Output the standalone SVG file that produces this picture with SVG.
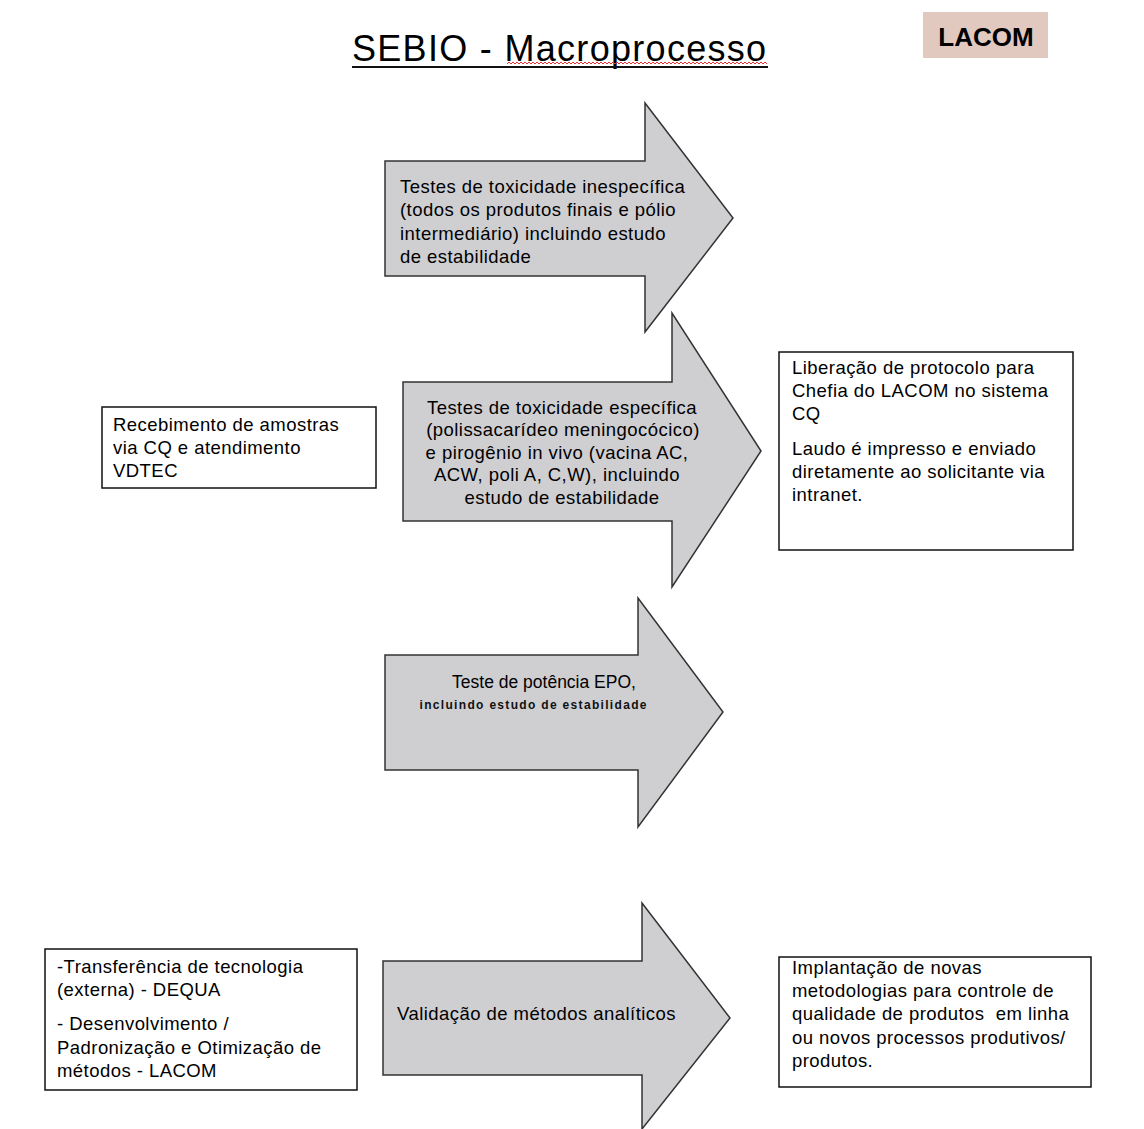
<svg xmlns="http://www.w3.org/2000/svg" width="1144" height="1129" viewBox="0 0 1144 1129">
  <style>
    .t { font-family: "Liberation Sans", Arial, sans-serif; font-size: 18.5px; letter-spacing: 0.45px; fill: #000; }
    .c { text-anchor: middle; }
    .arrow { fill: #cfcfd2; stroke: #333; stroke-width: 1.5; stroke-linejoin: miter; }
    .box { fill: #fff; stroke: #111; stroke-width: 1.5; }
  </style>
  <rect width="1144" height="1129" fill="#fff"/>

  <!-- title -->
  <g id="title">
    <text x="352" y="61" font-family="'Liberation Sans', Arial, sans-serif" font-size="36" letter-spacing="1.3" fill="#000">SEBIO - Macroprocesso</text>
    <line x1="352" y1="67" x2="768" y2="67" stroke="#111" stroke-width="2"/>
    <!-- spell-check squiggle, 13 runs of 20px -->
    <path d="M507,64
      l2,-2 l2,2 l2,-2 l2,2 l2,-2 l2,2 l2,-2 l2,2 l2,-2 l2,2
      l2,-2 l2,2 l2,-2 l2,2 l2,-2 l2,2 l2,-2 l2,2 l2,-2 l2,2
      l2,-2 l2,2 l2,-2 l2,2 l2,-2 l2,2 l2,-2 l2,2 l2,-2 l2,2
      l2,-2 l2,2 l2,-2 l2,2 l2,-2 l2,2 l2,-2 l2,2 l2,-2 l2,2
      l2,-2 l2,2 l2,-2 l2,2 l2,-2 l2,2 l2,-2 l2,2 l2,-2 l2,2
      l2,-2 l2,2 l2,-2 l2,2 l2,-2 l2,2 l2,-2 l2,2 l2,-2 l2,2
      l2,-2 l2,2 l2,-2 l2,2 l2,-2 l2,2 l2,-2 l2,2 l2,-2 l2,2
      l2,-2 l2,2 l2,-2 l2,2 l2,-2 l2,2 l2,-2 l2,2 l2,-2 l2,2
      l2,-2 l2,2 l2,-2 l2,2 l2,-2 l2,2 l2,-2 l2,2 l2,-2 l2,2
      l2,-2 l2,2 l2,-2 l2,2 l2,-2 l2,2 l2,-2 l2,2 l2,-2 l2,2
      l2,-2 l2,2 l2,-2 l2,2 l2,-2 l2,2 l2,-2 l2,2 l2,-2 l2,2
      l2,-2 l2,2 l2,-2 l2,2 l2,-2 l2,2 l2,-2 l2,2 l2,-2 l2,2
      l2,-2 l2,2 l2,-2 l2,2 l2,-2 l2,2 l2,-2 l2,2 l2,-2 l2,2" fill="none" stroke="#e03030" stroke-width="1"/>
  </g>

  <!-- LACOM tag -->
  <g id="lacom">
    <rect x="923" y="12" width="125" height="46" fill="#e2c9c0"/>
    <text x="986" y="46" text-anchor="middle" font-family="'Liberation Sans', Arial, sans-serif" font-size="26" font-weight="bold" fill="#000">LACOM</text>
  </g>

  <!-- arrow steps -->
  <g id="arrow-inespecifica">
    <path class="arrow" d="M385,161 H645 V103 L733,218 L645,332 V276 H385 Z"/>
    <text class="t" x="400" y="193">Testes de toxicidade inespecífica</text>
    <text class="t" x="400" y="216">(todos os produtos finais e pólio</text>
    <text class="t" x="400" y="240">intermediário) incluindo estudo</text>
    <text class="t" x="400" y="263">de estabilidade</text>
  </g>

  <g id="arrow-especifica">
    <path class="arrow" d="M403,382 H672 V313 L761,451 L672,587 V521 H403 Z"/>
    <text class="t c" x="562" y="414">Testes de toxicidade específica</text>
    <text class="t c" x="563" y="436">(polissacarídeo meningocócico)</text>
    <text class="t c" x="557" y="459">e pirogênio in vivo (vacina AC,</text>
    <text class="t c" x="557" y="481">ACW, poli A, C,W), incluindo</text>
    <text class="t c" x="562" y="504">estudo de estabilidade</text>
  </g>

  <g id="arrow-epo">
    <path class="arrow" d="M385,655 H638 V598 L723,712 L638,827 V770 H385 Z"/>
    <text x="544" y="688" text-anchor="middle" font-family="'Liberation Sans', Arial, sans-serif" font-size="17.5" fill="#000">Teste de potência EPO,</text>
    <text x="533" y="709" text-anchor="middle" font-family="'Liberation Sans', Arial, sans-serif" font-size="12" font-weight="bold" textLength="227" lengthAdjust="spacing" fill="#111">incluindo estudo de estabilidade</text>
  </g>

  <g id="arrow-validacao">
    <path class="arrow" d="M383,961 H642 V903 L730,1018 L642,1129 V1075 H383 Z"/>
    <text class="t" x="397" y="1020">Validação de métodos analíticos</text>
  </g>

  <!-- side boxes -->
  <g id="box-recebimento">
    <rect class="box" x="102" y="407" width="274" height="81"/>
    <text class="t" x="113" y="431">Recebimento de amostras</text>
    <text class="t" x="113" y="454">via CQ e atendimento</text>
    <text class="t" x="113" y="477">VDTEC</text>
  </g>

  <g id="box-liberacao">
    <rect class="box" x="779" y="352" width="294" height="198"/>
    <text class="t" x="792" y="374">Liberação de protocolo para</text>
    <text class="t" x="792" y="397">Chefia do LACOM no sistema</text>
    <text class="t" x="792" y="420">CQ</text>
    <text class="t" x="792" y="455">Laudo é impresso e enviado</text>
    <text class="t" x="792" y="478">diretamente ao solicitante via</text>
    <text class="t" x="792" y="501">intranet.</text>
  </g>

  <g id="box-transferencia">
    <rect class="box" x="45" y="949" width="312" height="141"/>
    <text class="t" x="57" y="973">-Transferência de tecnologia</text>
    <text class="t" x="57" y="996">(externa) - DEQUA</text>
    <text class="t" x="57" y="1030">- Desenvolvimento /</text>
    <text class="t" x="57" y="1054">Padronização e Otimização de</text>
    <text class="t" x="57" y="1077">métodos - LACOM</text>
  </g>

  <g id="box-implantacao">
    <rect class="box" x="779" y="957" width="312" height="130"/>
    <text class="t" x="792" y="974">Implantação de novas</text>
    <text class="t" x="792" y="997">metodologias para controle de</text>
    <text class="t" x="792" y="1020" xml:space="preserve">qualidade de produtos  em linha</text>
    <text class="t" x="792" y="1044">ou novos processos produtivos/</text>
    <text class="t" x="792" y="1067">produtos.</text>
  </g>

  <!-- no connectors between nodes; the arrow shapes carry the flow -->
  <g id="connectors"/>
</svg>
